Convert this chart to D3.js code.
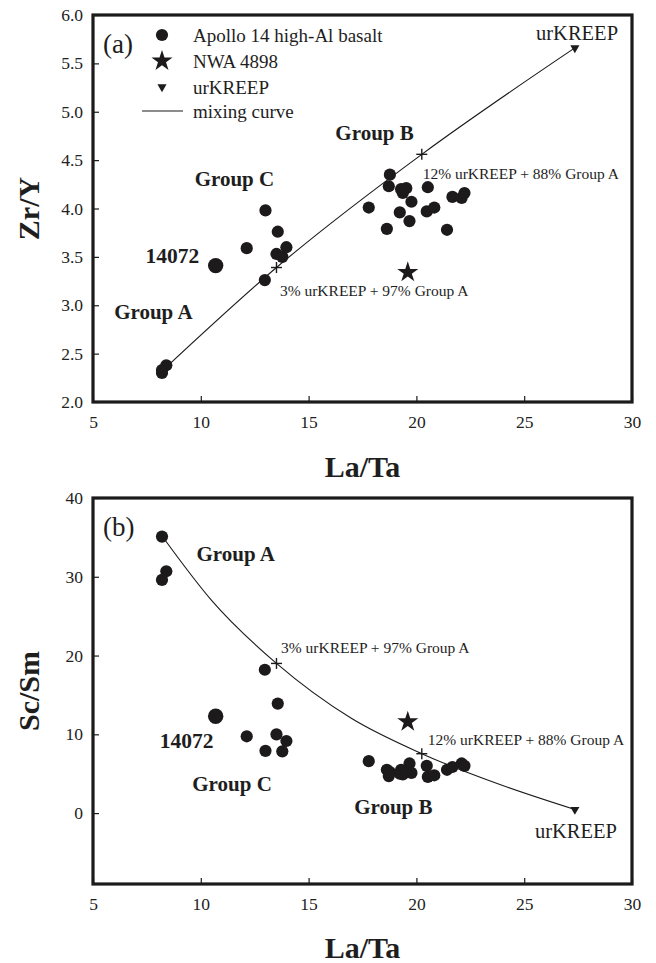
<!DOCTYPE html>
<html><head><meta charset="utf-8">
<script src="https://cdn.jsdelivr.net/npm/d3@7"></script>
<style>
html,body{margin:0;padding:0;background:#fff;}
svg{display:block;font-family:"Liberation Serif","Times New Roman",serif;}
</style></head><body>
<svg id="chart" width="656" height="963"></svg>
<script>
// ---- data ----
const xTicks = [5, 10, 15, 20, 25, 30];
const zrYTicks = [2.0, 2.5, 3.0, 3.5, 4.0, 4.5, 5.0, 5.5, 6.0];
const scSmTicks = [0, 10, 20, 30, 40];

const groupA_LaTa = [8.2, 8.4, 8.2];
const groupA_ZrY = [2.30, 2.38, 2.33];
const groupA_ScSm = [35.1, 30.7, 29.6];

const groupC_LaTa = [12.13, 12.97, 13.0, 13.51, 13.57, 13.78, 13.97];
const groupC_ZrY = [3.59, 3.26, 3.98, 3.53, 3.76, 3.50, 3.60];
const groupC_ScSm = [9.75, 18.2, 7.9, 10.0, 13.9, 7.84, 9.15];

const groupB_LaTa = [17.79, 18.63, 18.72, 18.77, 19.23, 19.29, 19.37, 19.53, 19.68, 19.77, 20.48, 20.53, 20.83, 21.42, 21.67, 22.10, 22.23];
const groupB_ZrY = [4.01, 3.79, 4.23, 4.35, 3.96, 4.20, 4.16, 4.21, 3.87, 4.07, 3.97, 4.22, 4.01, 3.78, 4.12, 4.11, 4.16];
const groupB_ScSm = [6.6, 5.5, 4.7, 5.2, 5.0, 5.5, 4.9, 5.3, 6.3, 5.1, 6.0, 4.6, 4.8, 5.5, 5.85, 6.3, 6.0];

const s14072_LaTa = [10.69];
const s14072_ZrY = [3.41];
const s14072_ScSm = [12.3];

const nwa4898_LaTa = [19.6];
const nwa4898_ZrY = [3.34];
const nwa4898_ScSm = [11.6];

const urkreep_LaTa = [27.35];
const urkreep_ZrY = [5.66];
const urkreep_ScSm = [0.45];

const mixLabels = ["3% urKREEP + 97% Group A", "12% urKREEP + 88% Group A"];
const mix_LaTa = [13.51, 20.25];
const mix_ZrY = [3.39, 4.56];
const mix_ScSm = [19.0, 7.54];

const curveZrY_LaTa = [8.3, 13.51, 20.25, 27.35];
const curveZrY = [2.34, 3.39, 4.56, 5.66];
const curveScSm_LaTa = [8.33, 10.5, 13.51, 17.0, 20.25, 24.0, 27.35];
const curveScSm = [34.7, 27.0, 19.0, 12.0, 7.54, 3.5, 0.45];

const legendLabels = ["Apollo 14 high-Al basalt", "NWA 4898", "urKREEP", "mixing curve"];

// ---- drawing ----
const INK = "#1c1a1b";
const TXT = "#1e1e1e";
const svg = d3.select("#chart");
const left = 93, right = 632;
const starSym = d3.symbol(d3.symbolStar, 138)();
const triSym = d3.symbol(d3.symbolTriangle, 36)();

const zip = (xs, ys) => xs.map((x, i) => [x, ys[i]]);

function drawPanel(cfg) {
  const x = d3.scaleLinear().domain([5, 30]).range([left, right]);
  const y = d3.scaleLinear().domain(cfg.yDomain).range([cfg.bottom, cfg.top]);
  const g = svg.append("g");

  // axes with inward ticks
  const xa = g.append("g").attr("transform", `translate(0,${cfg.bottom})`)
    .call(d3.axisBottom(x).tickValues(xTicks).tickSizeInner(-6).tickSizeOuter(0).tickPadding(14).tickFormat(d3.format("d")));
  const ya = g.append("g").attr("transform", `translate(${left},0)`)
    .call(d3.axisLeft(y).tickValues(cfg.yTicks).tickSizeInner(-6).tickSizeOuter(0).tickPadding(10).tickFormat(d3.format(cfg.fmt)));
  [xa, ya].forEach(a => {
    a.select(".domain").remove();
    a.selectAll(".tick line").attr("stroke", INK).attr("stroke-width", 1.2);
    a.selectAll(".tick text").attr("fill", "#222").style("font-size", "17.5px").style("font-family", "Liberation Serif");
  });

  // frame
  g.append("rect").attr("x", left).attr("y", cfg.top).attr("width", right - left).attr("height", cfg.bottom - cfg.top)
    .attr("fill", "none").attr("stroke", INK).attr("stroke-width", 3.2);

  // mixing curve
  g.append("path").datum(zip(cfg.curveX, cfg.curveY))
    .attr("d", d3.line().x(d => x(d[0])).y(d => y(d[1])).curve(d3.curveMonotoneX))
    .attr("fill", "none").attr("stroke", INK).attr("stroke-width", 1.1);

  // samples
  const pts = zip(groupA_LaTa, cfg.A).concat(zip(groupC_LaTa, cfg.C), zip(groupB_LaTa, cfg.B));
  g.selectAll("circle.s").data(pts).join("circle").attr("class", "s")
    .attr("cx", d => x(d[0])).attr("cy", d => y(d[1])).attr("r", 6.1).attr("fill", INK);
  g.selectAll("circle.big").data(zip(s14072_LaTa, cfg.s14072)).join("circle").attr("class", "big")
    .attr("cx", d => x(d[0])).attr("cy", d => y(d[1])).attr("r", 7.7).attr("fill", INK);

  // NWA 4898
  g.selectAll("path.star").data(zip(nwa4898_LaTa, cfg.nwa)).join("path").attr("class", "star")
    .attr("d", starSym)
    .attr("transform", d => `translate(${x(d[0])},${y(d[1])})`).attr("fill", INK);

  // urKREEP
  g.selectAll("path.tri").data(zip(urkreep_LaTa, cfg.ur)).join("path").attr("class", "tri")
    .attr("d", triSym)
    .attr("transform", d => `translate(${x(d[0])},${y(d[1])}) rotate(180)`).attr("fill", INK);

  // mixing proportions
  const cross = g.selectAll("g.cross").data(zip(mix_LaTa, cfg.mix)).join("g").attr("class", "cross")
    .attr("transform", d => `translate(${x(d[0])},${y(d[1])})`);
  cross.append("line").attr("x1", -5.5).attr("x2", 5.5).attr("stroke", INK).attr("stroke-width", 1.4);
  cross.append("line").attr("y1", -5.5).attr("y2", 5.5).attr("stroke", INK).attr("stroke-width", 1.4);

  // annotations
  cfg.notes.forEach(n => {
    g.append("text").attr("x", x(n.x)).attr("y", y(n.y)).attr("dy", "0.35em")
      .attr("text-anchor", n.anchor).attr("fill", TXT)
      .style("font-size", n.size + "px").style("font-weight", n.bold ? "bold" : "normal")
      .text(n.text);
  });

  // panel tag
  g.append("text").attr("x", 103).attr("y", cfg.top + 38).attr("fill", TXT)
    .style("font-size", "27px").text(cfg.tag);

  // axis titles
  g.append("text").attr("x", (left + right) / 2).attr("y", cfg.bottom + cfg.xTitleGap)
    .attr("text-anchor", "middle").attr("fill", TXT)
    .style("font-size", "30px").style("font-weight", "bold").text("La/Ta");
  g.append("text").attr("transform", `translate(39,${(cfg.top + cfg.bottom) / 2}) rotate(-90)`)
    .attr("text-anchor", "middle").attr("fill", TXT)
    .style("font-size", "30px").style("font-weight", "bold").text(cfg.yTitle);

  return { g, x, y };
}

const pa = drawPanel({
  top: 15, bottom: 402, yDomain: [2, 6], yTicks: zrYTicks, fmt: ".1f", tag: "(a)", yTitle: "Zr/Y", xTitleGap: 75,
  A: groupA_ZrY, B: groupB_ZrY, C: groupC_ZrY, s14072: s14072_ZrY, nwa: nwa4898_ZrY, ur: urkreep_ZrY, mix: mix_ZrY,
  curveX: curveZrY_LaTa, curveY: curveZrY,
  notes: [
    { text: "Group B", x: 18.06, y: 4.78, anchor: "middle", size: 21, bold: true },
    { text: "Group C", x: 11.56, y: 4.31, anchor: "middle", size: 21, bold: true },
    { text: "14072", x: 8.68, y: 3.51, anchor: "middle", size: 21.5, bold: true },
    { text: "Group A", x: 7.8, y: 2.93, anchor: "middle", size: 21, bold: true },
    { text: mixLabels[1], x: 20.29, y: 4.36, anchor: "start", size: 15.5 },
    { text: mixLabels[0], x: 13.67, y: 3.155, anchor: "start", size: 15.5 },
    { text: "urKREEP", x: 25.55, y: 5.82, anchor: "start", size: 20.5 }
  ]
});

drawPanel({
  top: 498, bottom: 884, yDomain: [-9, 40], yTicks: scSmTicks, fmt: "d", tag: "(b)", yTitle: "Sc/Sm", xTitleGap: 74,
  A: groupA_ScSm, B: groupB_ScSm, C: groupC_ScSm, s14072: s14072_ScSm, nwa: nwa4898_ScSm, ur: urkreep_ScSm, mix: mix_ScSm,
  curveX: curveScSm_LaTa, curveY: curveScSm,
  notes: [
    { text: "Group A", x: 11.62, y: 32.97, anchor: "middle", size: 21, bold: true },
    { text: mixLabels[0], x: 13.72, y: 21.0, anchor: "start", size: 15.5 },
    { text: "14072", x: 9.34, y: 9.24, anchor: "middle", size: 21.5, bold: true },
    { text: "Group C", x: 11.45, y: 3.73, anchor: "middle", size: 21, bold: true },
    { text: "Group B", x: 18.93, y: 0.85, anchor: "middle", size: 21, bold: true },
    { text: mixLabels[1], x: 20.53, y: 9.3, anchor: "start", size: 15.5 },
    { text: "urKREEP", x: 25.5, y: -2.2, anchor: "start", size: 20.5 }
  ]
});

// legend (panel a)
const lg = pa.g.append("g");
const rowY = [35, 61, 87, 111];
lg.append("circle").attr("cx", 162).attr("cy", rowY[0]).attr("r", 6.1).attr("fill", INK);
lg.append("path").attr("d", starSym).attr("transform", `translate(162,${rowY[1]})`).attr("fill", INK);
lg.append("path").attr("d", triSym).attr("transform", `translate(162,${rowY[2]}) rotate(180)`).attr("fill", INK);
lg.append("line").attr("x1", 142).attr("x2", 183).attr("y1", rowY[3]).attr("y2", rowY[3]).attr("stroke", INK).attr("stroke-width", 1.1);
lg.selectAll("text").data(legendLabels).join("text")
  .attr("x", 193).attr("y", (d, i) => rowY[i]).attr("dy", "0.35em").attr("fill", TXT)
  .style("font-size", "19px").text(d => d);
</script>
</body></html>
